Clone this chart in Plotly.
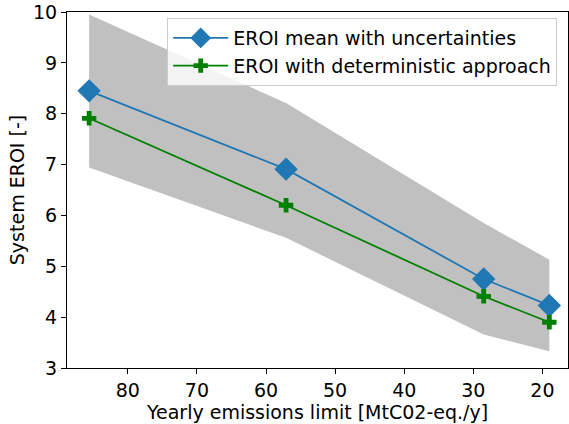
import plotly.graph_objects as go

# Yearly emissions limits (MtCO2-eq./y)
emission_limits = [85.6, 57.1, 28.5, 19.0]
# System EROI: mean of the uncertainty analysis, band bounds, deterministic run
eroi_mean = [8.45, 6.91, 4.75, 4.23]
eroi_upper = [9.95, 8.21, 5.85, 5.13]
eroi_lower = [6.94, 5.56, 3.66, 3.33]
eroi_deterministic = [7.91, 6.20, 4.41, 3.90]

font_family = "DejaVu Sans"
fs = 19

fig = go.Figure()

# Uncertainty band as a closed polygon (upper bound out, lower bound back)
fig.add_trace(go.Scatter(
    x=emission_limits + emission_limits[::-1],
    y=eroi_upper + eroi_lower[::-1],
    fill="toself",
    fillcolor="#c0c0c0",
    line=dict(width=0),
    mode="lines",
    hoverinfo="skip",
    showlegend=False,
))

fig.add_trace(go.Scatter(
    x=emission_limits, y=eroi_mean,
    mode="lines+markers",
    name="EROI mean with uncertainties",
    line=dict(color="#1f77b4", width=1.8),
    marker=dict(symbol="diamond", size=18, color="#1f77b4"),
))

fig.add_trace(go.Scatter(
    x=emission_limits, y=eroi_deterministic,
    mode="lines+markers",
    name="EROI with deterministic approach",
    line=dict(color="#008000", width=1.8),
    marker=dict(symbol="cross", size=12, color="#008000"),
))

axis_common = dict(
    showline=True, linecolor="black", linewidth=1, mirror=True,
    ticks="outside", ticklen=5, tickcolor="black", tickwidth=1,
    showgrid=False, zeroline=False,
    tickfont=dict(family=font_family, size=fs, color="black"),
)

fig.update_layout(
    width=569, height=424,
    margin=dict(l=67, r=1, t=12, b=56),
    paper_bgcolor="white", plot_bgcolor="white",
    font=dict(family=font_family, size=fs, color="black"),
    xaxis=dict(
        range=[88.8, 16.3], tickvals=[80, 70, 60, 50, 40, 30, 20],
        title=dict(text="Yearly emissions limit [MtC02-eq./y]", standoff=0,
                   font=dict(family=font_family, size=fs)),
        **axis_common,
    ),
    yaxis=dict(
        range=[3, 10], tickvals=[3, 4, 5, 6, 7, 8, 9, 10],
        title=dict(text="System EROI [-]", standoff=3,
                   font=dict(family=font_family, size=fs)),
        **axis_common,
    ),
    legend=dict(
        x=0.2, y=0.983, xanchor="left", yanchor="top",
        bgcolor="rgba(255,255,255,0.8)", bordercolor="#cccccc", borderwidth=1,
        font=dict(family=font_family, size=fs, color="black"),
        itemwidth=55, tracegroupgap=0,
    ),
)

fig.write_html("out.html")
